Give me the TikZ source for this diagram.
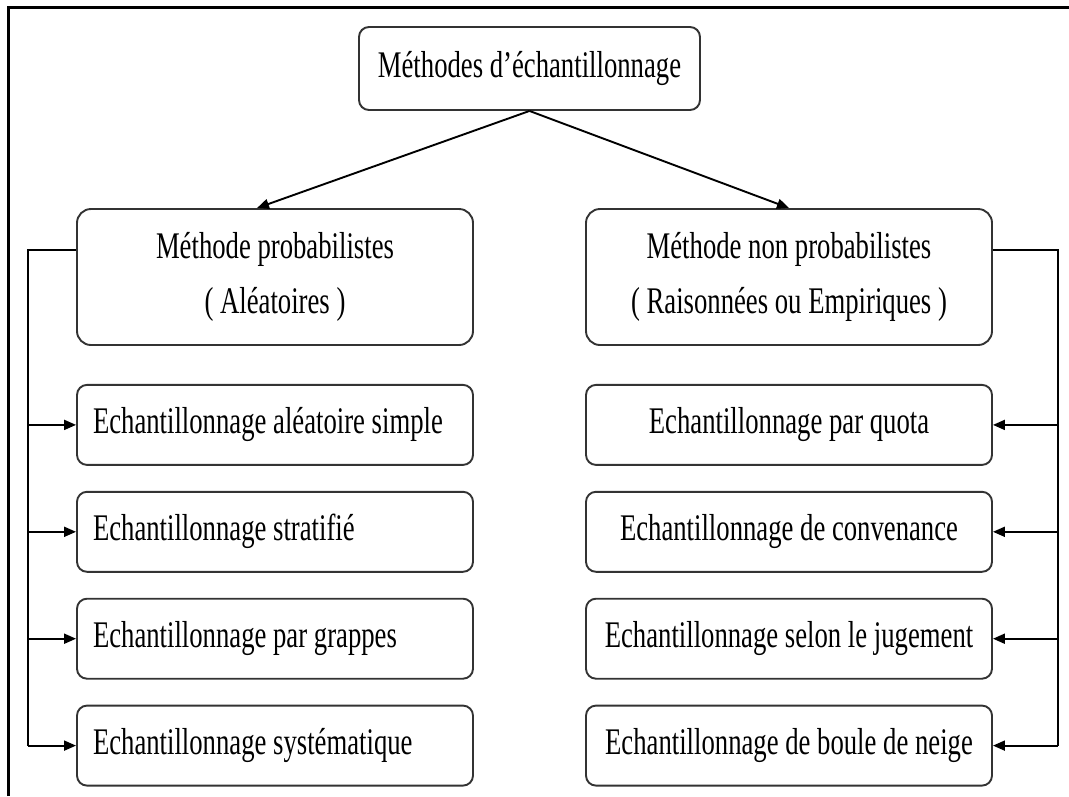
\documentclass[tikz,border=0pt]{standalone}
\usepackage{fontspec}
\setmainfont{Liberation Serif}[FakeStretch=0.71]
\usetikzlibrary{arrows.meta, positioning}
\definecolor{boxgray}{HTML}{333333}

\begin{document}
\begin{tikzpicture}[
    x=1pt, y=1pt,
    node distance=25pt,
    every node/.style={font=\fontsize{37.6}{55}\selectfont},
    topbox/.style={rectangle, rounded corners=10pt, draw=boxgray, line width=1.9pt, minimum width=341pt, minimum height=83pt},
    bigbox/.style={rectangle, rounded corners=14pt, draw=boxgray, line width=1.9pt, minimum width=396pt, minimum height=136pt, align=center},
    leftbox/.style={rectangle, rounded corners=10pt, draw=boxgray, line width=1.9pt, text width=364pt, inner xsep=16pt, minimum height=80pt, align=flush left},
    rightbox/.style={rectangle, rounded corners=10pt, draw=boxgray, line width=1.9pt, minimum width=406pt, minimum height=80pt, align=center},
    arrow/.style={-{Triangle[length=12pt,width=10pt]}, line width=1.9pt},
    rail/.style={line width=1.9pt},
    frame/.style={line width=3pt}
]
\useasboundingbox (0,0) rectangle (1069,-796);

% Frame
\draw[frame] (8,-796) -- (8,-7) -- (1069,-7);

% Nodes
\node[topbox] (methodes) at (529.5,-68.5) {Méthodes d’échantillonnage};
\node[bigbox] (proba) at (275,-277) {Méthode probabilistes\\( Aléatoires )};
\node[bigbox, minimum width=406pt] (nonproba) at (789,-277) {Méthode non probabilistes\\( Raisonnées ou Empiriques )};

% Left column
\node[leftbox, below=38pt of proba] (simple) {Echantillonnage aléatoire simple};
\node[leftbox, below=of simple] (stratifie) {Echantillonnage stratifié};
\node[leftbox, below=of stratifie] (grappes) {Echantillonnage par grappes};
\node[leftbox, below=of grappes] (systematique) {Echantillonnage systématique};

% Right column
\node[rightbox, below=38pt of nonproba] (quota) {Echantillonnage par quota};
\node[rightbox, below=of quota] (convenance) {Echantillonnage de convenance};
\node[rightbox, below=of convenance] (jugement) {Echantillonnage selon le jugement};
\node[rightbox, below=of jugement] (neige) {Echantillonnage de boule de neige};

% Arrows
\draw[arrow] (methodes.south) -- ([xshift=-18pt]proba.north);
\draw[arrow] (methodes.south) -- (nonproba.north);

\coordinate (lrail) at (28,-250);
\coordinate (rrail) at (1058,-250);
\draw[rail] (proba.west |- lrail) -- (lrail) -- (lrail |- systematique.west);
\draw[rail] (nonproba.east |- rrail) -- (rrail) -- (rrail |- neige.east);
\foreach \n in {simple, stratifie, grappes, systematique}
    \draw[arrow] (lrail |- \n.west) -- (\n.west);
\foreach \n in {quota, convenance, jugement, neige}
    \draw[arrow] (rrail |- \n.east) -- (\n.east);

\end{tikzpicture}
\end{document}
